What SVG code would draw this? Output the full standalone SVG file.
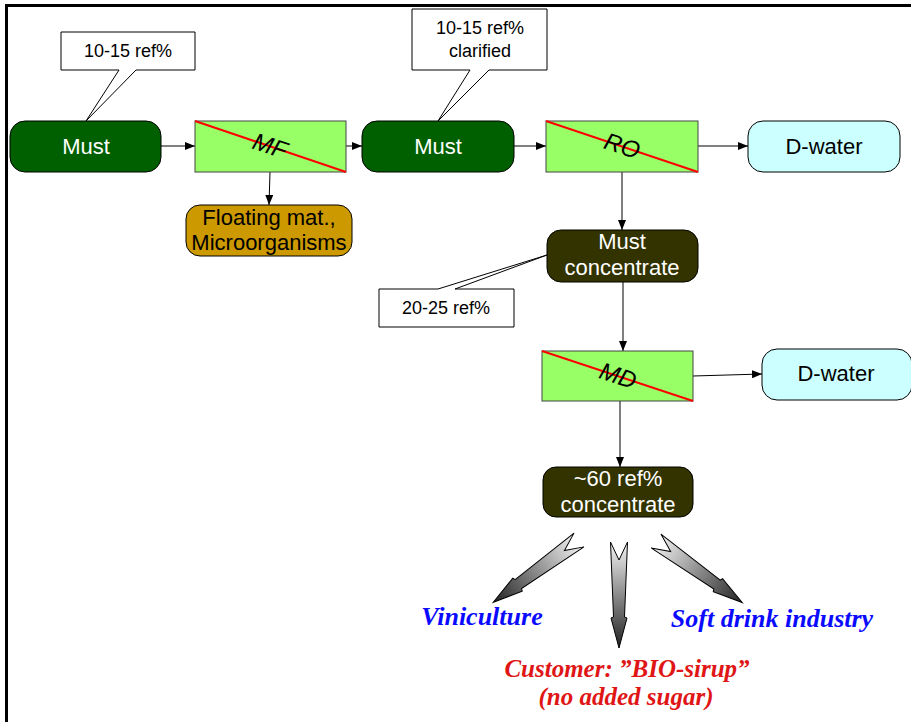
<svg xmlns="http://www.w3.org/2000/svg" width="911" height="722" viewBox="0 0 911 722">
<defs>
<style>
.sans{font-family:"Liberation Sans",Arial,sans-serif;font-size:22px;text-anchor:middle}
.w{fill:#ffffff}
.k{fill:#000000}
.call{fill:#ffffff;stroke:#000;stroke-width:1}
.ct{font-family:"Liberation Sans",Arial,sans-serif;font-size:18px;text-anchor:middle;fill:#000}
.proc{fill:#99ff66;stroke:#444;stroke-width:1}
.diag{stroke:#ff0000;stroke-width:2}
.pt{font-family:"Liberation Sans",Arial,sans-serif;font-size:24px;font-style:italic;text-anchor:middle;fill:#000}
.green{fill:#006000;stroke:#000;stroke-width:1}
.olive{fill:#333300;stroke:#000;stroke-width:1}
.cyan{fill:#ccffff;stroke:#000;stroke-width:1}
.gold{fill:#cc9900;stroke:#000;stroke-width:1}
.con{stroke:#000;stroke-width:1;fill:none;marker-end:url(#ah)}
.fat{fill:url(#fg);stroke:#000;stroke-width:1}
.out{font-family:"Liberation Serif","Times New Roman",serif;font-size:26px;font-style:italic;font-weight:bold;text-anchor:middle}
.out2{font-family:"Liberation Serif","Times New Roman",serif;font-size:25px;font-style:italic;font-weight:bold;text-anchor:middle}
</style>
<marker id="ah" markerUnits="userSpaceOnUse" markerWidth="10" markerHeight="8" refX="10" refY="4" orient="auto">
<path d="M0,0 L10,4 L0,8 Z" fill="#000"/>
</marker>
<linearGradient id="fg" x1="0" y1="0" x2="1" y2="0">
<stop offset="0" stop-color="#f4f4f4"/>
<stop offset="1" stop-color="#222222"/>
</linearGradient>
<polygon id="fatarrow" points="0,-8.5 75,-5.5 76,-8 106,0 76,8 75,5.5 0,8.5 18,0"/>
</defs>
<rect width="911" height="722" fill="#ffffff"/>
<path d="M6.5,730 V5.5 H911" fill="none" stroke="#000" stroke-width="3"/>

<g id="connectors">
<line class="con" x1="161" y1="146" x2="195" y2="146"/>
<line class="con" x1="346" y1="146" x2="362" y2="146"/>
<line class="con" x1="514" y1="146" x2="546" y2="146"/>
<line class="con" x1="698" y1="146" x2="748" y2="146"/>
<line class="con" x1="270" y1="172" x2="269" y2="205"/>
<line class="con" x1="622" y1="172" x2="622" y2="230"/>
<line class="con" x1="623" y1="282" x2="623" y2="351"/>
<line class="con" x1="693" y1="376" x2="762" y2="374"/>
<line class="con" x1="620" y1="401" x2="620" y2="467"/>
</g>

<g id="callout1">
<path class="call" d="M61,32 H195 V70 H136 L86,121 L119,70 H61 Z"/>
<text class="ct" x="128" y="57">10-15 ref%</text>
</g>
<g id="callout2">
<path class="call" d="M412,9 H547 V70 H489 L438,121 L470,70 H412 Z"/>
<text class="ct" x="480" y="34">10-15 ref%</text>
<text class="ct" x="480" y="57">clarified</text>
</g>
<g id="callout3">
<path class="call" d="M379,289 H438 L547,255 L455,289 H514 V327 H379 Z"/>
<text class="ct" x="446" y="314">20-25 ref%</text>
</g>

<g id="must1">
<rect class="green" x="10" y="121" width="151" height="51" rx="15"/>
<text class="sans w" x="86" y="154">Must</text>
</g>
<g id="mf">
<rect class="proc" x="195" y="121" width="151" height="51"/>
<line class="diag" x1="195" y1="121" x2="346" y2="172"/>
<text class="pt" transform="translate(270,146) rotate(18)" y="8">MF</text>
</g>
<g id="floating">
<rect class="gold" x="186" y="205" width="166" height="51" rx="14"/>
<text class="sans k" x="269" y="225">Floating mat.,</text>
<text class="sans k" x="269" y="250">Microorganisms</text>
</g>
<g id="must2">
<rect class="green" x="362" y="121" width="152" height="51" rx="15"/>
<text class="sans w" x="438" y="154">Must</text>
</g>
<g id="ro">
<rect class="proc" x="546" y="121" width="152" height="51"/>
<line class="diag" x1="546" y1="121" x2="698" y2="172"/>
<text class="pt" transform="translate(622,146) rotate(18)" y="8">RO</text>
</g>
<g id="dwater1">
<rect class="cyan" x="748" y="121" width="152" height="51" rx="15"/>
<text class="sans k" x="824" y="154">D-water</text>
</g>
<g id="mustconc">
<rect class="olive" x="547" y="230" width="151" height="52" rx="14"/>
<text class="sans w" x="622" y="249">Must</text>
<text class="sans w" x="622" y="275">concentrate</text>
</g>
<g id="md">
<rect class="proc" x="542" y="351" width="151" height="50"/>
<line class="diag" x1="542" y1="351" x2="693" y2="401"/>
<text class="pt" transform="translate(618,376) rotate(18)" y="8">MD</text>
</g>
<g id="dwater2">
<rect class="cyan" x="762" y="349" width="150" height="51" rx="15"/>
<text class="sans k" x="836" y="381">D-water</text>
</g>
<g id="conc60">
<rect class="olive" x="543" y="467" width="150" height="50" rx="13"/>
<text class="sans w" x="618" y="486">~60 ref%</text>
<text class="sans w" x="618" y="512">concentrate</text>
</g>

<g id="outputs">
<use href="#fatarrow" class="fat" transform="translate(579,540) rotate(144)"/>
<use href="#fatarrow" class="fat" transform="translate(619,542) rotate(90)"/>
<use href="#fatarrow" class="fat" transform="translate(656,541) rotate(35.5)"/>
<text class="out" x="482" y="625" fill="#0a0aff">Viniculture</text>
<text class="out" x="772" y="627" fill="#0a0aff">Soft drink industry</text>
<text class="out2" x="627" y="677" fill="#e01515">Customer: ”BIO-sirup”</text>
<text class="out2" x="626" y="705" fill="#e01515">(no added sugar)</text>
</g>
</svg>
